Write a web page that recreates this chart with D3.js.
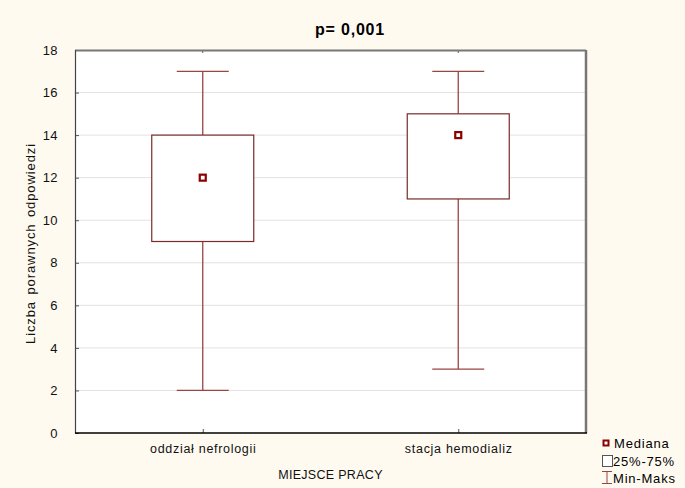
<!DOCTYPE html>
<html lang="pl">
<head>
<meta charset="UTF-8">
<title>p= 0,001</title>
<script src="https://d3js.org/d3.v7.min.js"></script>
<style>
  body { margin: 0; background: #fffaf0; }
  svg { display: block; font-family: "Liberation Sans", Arial, sans-serif; }
</style>
</head>
<body>
<svg width="685" height="488"></svg>
<script>
// Data
const categories = ["oddział nefrologii", "stacja hemodializ"];
const minVals    = [2, 3];
const q1Vals     = [9, 11];
const medians    = [12, 14];
const q3Vals     = [14, 15];
const maxVals    = [17, 17];
const yTicks     = [0, 2, 4, 6, 8, 10, 12, 14, 16, 18];

const svg = d3.select("svg");
const margin = { top: 50, right: 99, bottom: 55, left: 75 };
const width = 685 - margin.left - margin.right,
      height = 488 - margin.top - margin.bottom;

const boxColor = "#7a2a2a";

const x = d3.scalePoint().domain(categories).range([0, width]).padding(0.5);
const y = d3.scaleLinear().domain([0, 18]).range([height, 0]);

const g = svg.append("g").attr("transform", `translate(${margin.left},${margin.top})`);

// plot background
g.append("rect").attr("width", width).attr("height", height).attr("fill", "#fff");

// horizontal gridlines
g.selectAll(".grid").data(yTicks.filter(t => t > 0 && t < 18)).enter()
  .append("line")
  .attr("x1", 0).attr("x2", width)
  .attr("y1", d => y(d)).attr("y2", d => y(d))
  .attr("stroke", "#e2e2e2").attr("stroke-width", 1);

// y axis (labels outside, tiny inward ticks)
const yAxis = g.append("g")
  .call(d3.axisLeft(y).tickValues(yTicks).tickSize(-4).tickPadding(17));
yAxis.select(".domain").remove();
yAxis.selectAll("line").attr("stroke", "#555");
yAxis.selectAll("text").attr("font-size", 13).attr("fill", "#111")
  .attr("letter-spacing", 0.4)
  .attr("font-family", "Liberation Sans, Arial, sans-serif");

// x axis
const xAxis = g.append("g").attr("transform", `translate(0,${height})`)
  .call(d3.axisBottom(x).tickSize(-4).tickPadding(11));
xAxis.select(".domain").remove();
xAxis.selectAll("line").attr("stroke", "#555");
xAxis.selectAll("text").attr("font-size", 12.5).attr("fill", "#111")
  .attr("letter-spacing", 0.7)
  .attr("font-family", "Liberation Sans, Arial, sans-serif");

// top ticks
g.selectAll(".ttick").data(categories).enter().append("line")
  .attr("x1", d => x(d)).attr("x2", d => x(d))
  .attr("y1", 0).attr("y2", 3).attr("stroke", "#555");

const boxW = 102, capW = 52;
const rows = categories.map((c, i) => ({
  c, min: minVals[i], q1: q1Vals[i], med: medians[i], q3: q3Vals[i], max: maxVals[i]
}));

const box = g.selectAll(".box").data(rows).enter().append("g");

// whiskers
box.append("line")
  .attr("x1", d => x(d.c)).attr("x2", d => x(d.c))
  .attr("y1", d => y(d.max)).attr("y2", d => y(d.q3))
  .attr("stroke", "#9b4444").attr("stroke-width", 1.3);
box.append("line")
  .attr("x1", d => x(d.c)).attr("x2", d => x(d.c))
  .attr("y1", d => y(d.q1)).attr("y2", d => y(d.min))
  .attr("stroke", "#9b4444").attr("stroke-width", 1.3);
// caps
box.append("line")
  .attr("x1", d => x(d.c) - capW / 2).attr("x2", d => x(d.c) + capW / 2)
  .attr("y1", d => y(d.max)).attr("y2", d => y(d.max))
  .attr("stroke", "#9b4444").attr("stroke-width", 1.3);
box.append("line")
  .attr("x1", d => x(d.c) - capW / 2).attr("x2", d => x(d.c) + capW / 2)
  .attr("y1", d => y(d.min)).attr("y2", d => y(d.min))
  .attr("stroke", "#9b4444").attr("stroke-width", 1.3);

// boxes
box.append("rect")
  .attr("x", d => x(d.c) - boxW / 2).attr("width", boxW)
  .attr("y", d => y(d.q3)).attr("height", d => y(d.q1) - y(d.q3))
  .attr("fill", "#fff").attr("stroke", boxColor).attr("stroke-width", 1.2);

// median markers
box.append("rect")
  .attr("x", d => x(d.c) - 3).attr("y", d => y(d.med) - 3)
  .attr("width", 6).attr("height", 6)
  .attr("fill", "#fff").attr("stroke", "#8b0000").attr("stroke-width", 2.2);

// frame
g.append("line").attr("x1", 0).attr("x2", width).attr("y1", 0.5).attr("y2", 0.5)
  .attr("stroke", "#777").attr("stroke-width", 2);
g.append("line").attr("x1", width).attr("x2", width).attr("y1", 0).attr("y2", height)
  .attr("stroke", "#777").attr("stroke-width", 2.5);
g.append("line").attr("x1", 0.5).attr("x2", 0.5).attr("y1", 0).attr("y2", height)
  .attr("stroke", "#444").attr("stroke-width", 1.2);
g.append("line").attr("x1", 0).attr("x2", width + 1).attr("y1", height).attr("y2", height)
  .attr("stroke", "#000").attr("stroke-width", 1.5);

// title
svg.append("text").attr("x", 350).attr("y", 35).attr("text-anchor", "middle")
  .attr("font-size", 16).attr("font-weight", "bold").attr("fill", "#000")
  .attr("letter-spacing", 0.8)
  .text("p= 0,001");

// axis titles
svg.append("text").attr("x", margin.left + width / 2).attr("y", 479)
  .attr("text-anchor", "middle").attr("font-size", 12.5).attr("fill", "#111")
  .attr("letter-spacing", 0.3).text("MIEJSCE PRACY");
svg.append("text")
  .attr("transform", `translate(35,${margin.top + height / 2 + 2}) rotate(-90)`)
  .attr("text-anchor", "middle").attr("font-size", 13).attr("fill", "#111")
  .attr("letter-spacing", 0.9).attr("word-spacing", 2)
  .text("Liczba porawnych odpowiedzi");

// legend
const lg = svg.append("g").attr("transform", "translate(602,436)")
  .attr("letter-spacing", 0.8);
lg.append("rect").attr("x", 1.5).attr("y", 4.5).attr("width", 5).attr("height", 5)
  .attr("fill", "#fff").attr("stroke", "#8b0000").attr("stroke-width", 2);
lg.append("text").attr("x", 12).attr("y", 12).attr("font-size", 13).text("Mediana");
lg.append("rect").attr("x", 0.5).attr("y", 19.5).attr("width", 10).attr("height", 11)
  .attr("fill", "#fff").attr("stroke", "#555").attr("stroke-width", 1);
lg.append("text").attr("x", 11).attr("y", 30).attr("font-size", 13).text("25%-75%");
lg.append("line").attr("x1", 0).attr("x2", 10).attr("y1", 35.5).attr("y2", 35.5)
  .attr("stroke", "#9b4444");
lg.append("line").attr("x1", 5).attr("x2", 5).attr("y1", 35.5).attr("y2", 47.5)
  .attr("stroke", "#9b4444");
lg.append("line").attr("x1", 0).attr("x2", 10).attr("y1", 47.5).attr("y2", 47.5)
  .attr("stroke", "#9b4444");
lg.append("text").attr("x", 11).attr("y", 47).attr("font-size", 13).text("Min-Maks");
</script>
</body>
</html>
